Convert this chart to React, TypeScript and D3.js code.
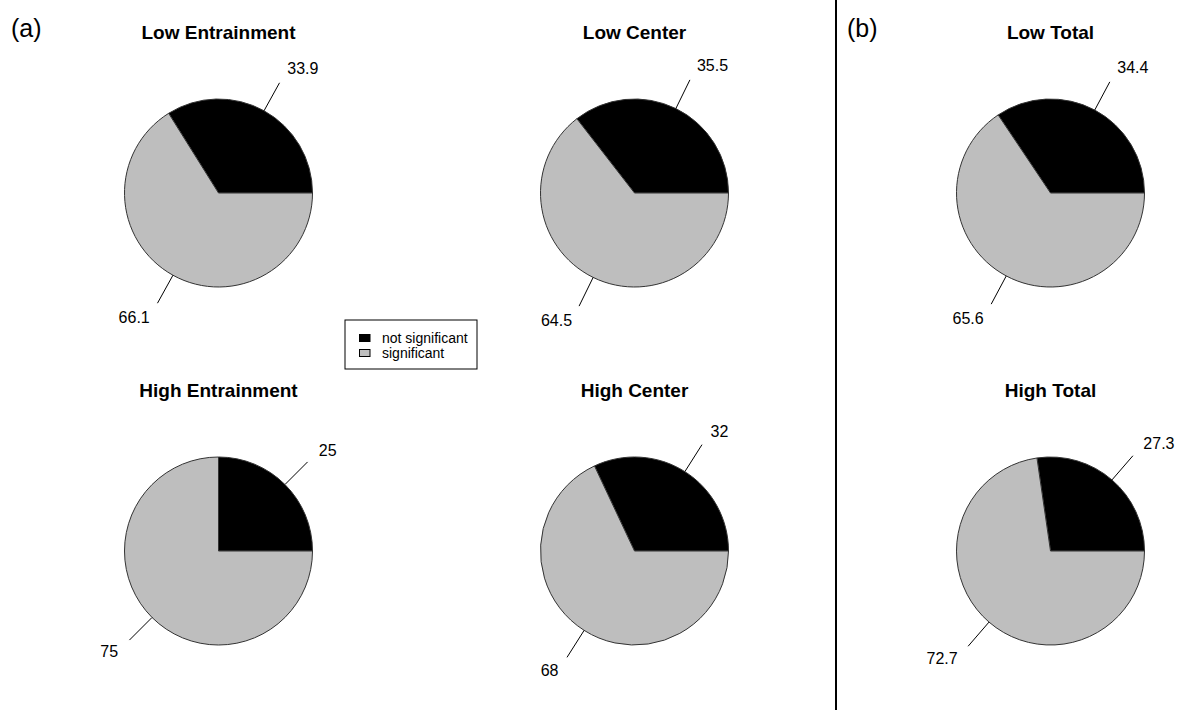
import React from "react";
import * as d3 from "d3";

// Percent of tests per group, first slice = not significant, second = significant
const panelTitles = ["Low Entrainment", "Low Center", "Low Total", "High Entrainment", "High Center", "High Total"];
const notSignificant = [33.9, 35.5, 34.4, 25, 32, 27.3];
const significant = [66.1, 64.5, 65.6, 75, 68, 72.7];
const categories = ["not significant", "significant"];
const sliceColors = ["#000000", "#BEBEBE"];
const panelTags = ["(a)", "(b)"];

const W = 1178;
const H = 710;
const R = 94;
const FONT = "'Liberation Sans', Arial, Helvetica, sans-serif";

const colX = d3.scalePoint<number>().domain([0, 1, 2]).range([218.5, 1050.5]);
const rowY = d3.scalePoint<number>().domain([0, 1]).range([193, 551]);

const pie = d3
  .pie<number>()
  .sort(null)
  .value((d) => d)
  .startAngle(Math.PI / 2)
  .endAngle(Math.PI / 2 - 2 * Math.PI);

const arc = d3.arc<d3.PieArcDatum<number>>().innerRadius(0).outerRadius(R);

function polar(a: number, r: number): [number, number] {
  return [r * Math.sin(a), -r * Math.cos(a)];
}

function PiePanel({ i }: { i: number }) {
  const cx = colX(i % 3)!;
  const cy = rowY(Math.floor(i / 3))!;
  const values = [notSignificant[i], significant[i]];
  const arcs = pie(values);
  return (
    <g transform={`translate(${cx},${cy})`}>
      <text
        x={0}
        y={-154}
        textAnchor="middle"
        fontFamily={FONT}
        fontWeight="bold"
        fontSize={19}
      >
        {panelTitles[i]}
      </text>
      {arcs.map((d, k) => (
        <path key={k} d={arc(d) || ""} fill={sliceColors[k]} stroke="#333" strokeWidth={1} />
      ))}
      {arcs.map((d, k) => {
        const mid = (d.startAngle + d.endAngle) / 2;
        const [x0, y0] = polar(mid, R);
        const [x1, y1] = polar(mid, R * 1.34);
        const [tx, ty] = polar(mid, R * 1.51);
        return (
          <g key={`l${k}`}>
            <line x1={x0} y1={y0} x2={x1} y2={y1} stroke="#000" strokeWidth={1} />
            <text
              x={tx}
              y={ty}
              textAnchor={tx < 0 ? "end" : "start"}
              dominantBaseline="central"
              fontFamily={FONT}
              fontSize={16}
            >
              {String(values[k])}
            </text>
          </g>
        );
      })}
    </g>
  );
}

export default function App() {
  return (
    <svg
      width={W}
      height={H}
      style={{ position: "absolute", left: 0, top: 0, display: "block", background: "#fff" }}
    >
      <rect x={0} y={0} width={W} height={H} fill="#fff" />
      {panelTitles.map((_, i) => (
        <PiePanel key={i} i={i} />
      ))}
      <text x={11} y={37} fontFamily={FONT} fontSize={25}>
        {panelTags[0]}
      </text>
      <text x={847} y={37} fontFamily={FONT} fontSize={25}>
        {panelTags[1]}
      </text>
      <line x1={836} y1={0} x2={836} y2={H} stroke="#000" strokeWidth={2} />
      <g transform="translate(345,320)">
        <rect x={0} y={0} width={132} height={49} fill="#fff" stroke="#000" strokeWidth={1} />
        {categories.map((c, k) => (
          <g key={c} transform={`translate(0,${18 + k * 15})`}>
            <rect x={14.5} y={-3.5} width={10.5} height={7} fill={sliceColors[k]} stroke="#000" strokeWidth={1} />
            <text x={37} y={0} dominantBaseline="central" fontFamily={FONT} fontSize={14}>
              {c}
            </text>
          </g>
        ))}
      </g>
    </svg>
  );
}
